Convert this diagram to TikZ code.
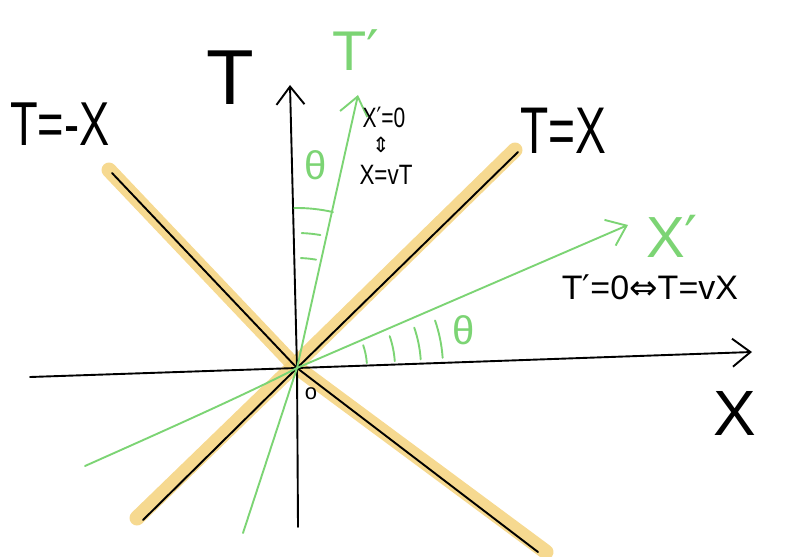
\documentclass[tikz,border=0pt]{standalone}
\usepackage{graphicx}
\usepackage{fontspec}
\setmainfont{Liberation Sans}
\newfontfamily\symfont{DejaVu Sans}
\usetikzlibrary{arrows.meta,positioning,calc}
\definecolor{lgreen}{HTML}{7CD474}
\definecolor{hlyellow}{HTML}{F4D27C}
\newcommand\prm{{\symfont ′}}
\newcommand\handtext[2]{\scalebox{#1}[1]{#2}}

\begin{document}
\begin{tikzpicture}[x=1pt,y=-1pt,
    ink/.style={line width=1.9pt,line cap=round,line join=round},
    axis/.style={ink,-{Straight Barb[length=18pt,width=28pt]}},
    frame/.style={ink,lgreen},
    hl/.style={line width=15pt,hlyellow,line cap=round,line join=round,opacity=0.85},
    lbl/.style={inner sep=0pt,font=\fontsize{#1}{#1}\selectfont}
]
\useasboundingbox (0,0) rectangle (799,556);

% points
\coordinate (O)   at (297,368);
\coordinate (xl)  at (30,377);
\coordinate (xr)  at (752,352);
\coordinate (tb)  at (298,527);
\coordinate (tt)  at (290,85);
\coordinate (lb)  at (143,520);
\coordinate (lt)  at (518,152);
\coordinate (nl)  at (112,173);
\coordinate (nr)  at (538,552);
\coordinate (tpb) at (243,533);
\coordinate (tpt) at (358,95);
\coordinate (xpb) at (85,466);
\coordinate (xpt) at (628,225);

% light cone highlight
\draw[hl] ($(lb)+(-6,-2)$) -- ($(O)+(-3,-2)$) -- ($(lt)+(-3,-2)$);
\draw[hl] ($(nl)+(-3,-3)$) -- ($(O)+(-2,-2)$) -- ($(nr)+(8,0)$);

% light cone
\draw[ink] (lb) -- (O) -- (lt);
\draw[ink] (nl) -- (O) -- (nr);

% axes
\draw[axis] (xl) -- (O) -- (xr);
\draw[axis] (tb) -- (O) -- (tt);
\draw[axis,lgreen] (tpb) -- (O) -- (tpt);
\draw[axis,lgreen] (xpb) .. controls (150,437) and (245,395) .. (O) -- (xpt);

% angles
\draw[frame] (O) ++(-91:160) arc[start angle=-91,end angle=-77,radius=160];
\draw[frame] (O) ++(-88:135) arc[start angle=-88,end angle=-80,radius=135];
\draw[frame] (O) ++(-88:110) arc[start angle=-88,end angle=-80,radius=110];
\foreach \r in {70,98,124,146}
  \draw[frame] (O) ++(-4:\r) arc[start angle=-4,end angle=-19,radius=\r];

% labels
\node[lbl=78] (tlab) at (230,78) {T};
\node[lbl=56,lgreen] (tplab) at (356,50) {T\prm};
\node[lbl=62] (nxlab) at (60,124) {\handtext{0.73}{T=-X}};
\node[lbl=66] (pxlab) at (563,131) {\handtext{0.7}{T=X}};
\node[lbl=58,lgreen] (xplab) at (672,236) {X\prm};
\node[lbl=64] (xlab) at (735,413) {X};
\node[lbl=34] (xpeq) at (650,287) {T\prm=0{\symfont ⇔}T=vX};
\node[lbl=28] (tpeq) at (384,117) {\handtext{0.75}{X\prm=0}};
\node[lbl=21] (equiv) at (381,145) {\symfont ⇕};
\node[lbl=28] (vteq) at (386,175) {\handtext{0.8}{X=vT}};
\node[lbl=40,lgreen] (thtop) at (316,165) {θ};
\node[lbl=40,lgreen] (thbot) at (464,330) {θ};
\node[lbl=22] (olab) at (311,394) {o};
\end{tikzpicture}
\end{document}
